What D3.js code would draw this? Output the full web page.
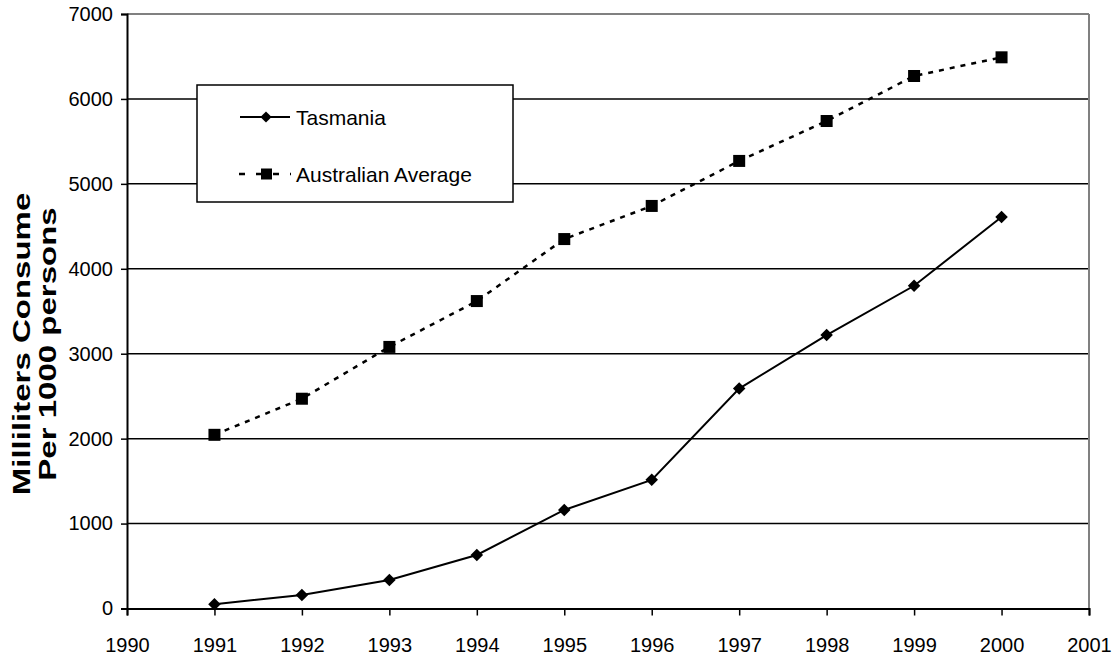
<!DOCTYPE html>
<html><head><meta charset="utf-8">
<script src="https://cdn.jsdelivr.net/npm/d3@7"></script>
<style>body{margin:0;background:#fff}svg text{font-family:"Liberation Sans",Arial,sans-serif}</style>
</head><body>
<svg id="c" width="1116" height="659"></svg>
<script>
const years = [1991,1992,1993,1994,1995,1996,1997,1998,1999,2000];
const tasmania = [50,160,335,630,1160,1515,2590,3220,3800,4610];
const australia = [2045,2470,3080,3620,4350,4740,5270,5740,6270,6490];
const yTicks = [0,1000,2000,3000,4000,5000,6000,7000];
const xTicks = [1990,1991,1992,1993,1994,1995,1996,1997,1998,1999,2000,2001];
const seriesNames = ["Tasmania","Australian Average"];

const svg = d3.select("#c");
const L=127,R=1089,T=14,B=608.5;
const x = d3.scaleLinear().domain([1990,2001]).range([L,R]);
const y = d3.scaleLinear().domain([0,7000]).range([B,T]);

// gridlines
svg.append("g").selectAll("line").data(yTicks.filter(d=>d>0)).join("line")
  .attr("x1",L).attr("x2",R).attr("y1",d=>y(d)).attr("y2",d=>y(d))
  .attr("stroke",d=>d===7000?"#808080":"#000").attr("stroke-width",d=>d===7000?2:1.5);
// right border
svg.append("line").attr("x1",R).attr("x2",R).attr("y1",T).attr("y2",B).attr("stroke","#808080").attr("stroke-width",2);

// axes
const yAxis = d3.axisLeft(y).tickValues(yTicks).tickSize(6).tickPadding(8).tickFormat(d3.format("d"));
const gy = svg.append("g").attr("transform",`translate(${L},0)`).call(yAxis);
const xAxis = d3.axisBottom(x).tickValues(xTicks).tickSize(7).tickPadding(22).tickFormat(d3.format("d"));
const gx = svg.append("g").attr("transform",`translate(0,${B})`).call(xAxis);
[gx,gy].forEach(g=>{
  g.attr("font-size",null).attr("font-family",null);
  g.select(".domain").attr("stroke","#000").attr("stroke-width",2);
  g.selectAll(".tick line").attr("stroke","#000").attr("stroke-width",1.5);
  g.selectAll("text").style("font-size","20px").attr("fill","#000");
});

// axis title
const tt = svg.append("text").attr("transform","translate(30,344) rotate(-90) scale(1,0.72)")
  .attr("text-anchor","middle").attr("font-weight","bold").style("font-size","33px").attr("fill","#000");
tt.append("tspan").attr("x",0).attr("y",0).text("Milliliters Consume");
tt.append("tspan").attr("x",0).attr("y",36).text("Per 1000 persons");

const line = d3.line().x((d,i)=>x(years[i])).y(d=>y(d));
// Australian
svg.append("path").datum(australia).attr("d",line).attr("fill","none").attr("stroke","#000")
  .attr("stroke-width",2.5).attr("stroke-dasharray","5,6");
svg.append("g").selectAll("rect").data(australia).join("rect")
  .attr("x",(d,i)=>x(years[i])-6).attr("y",d=>y(d)-6).attr("width",12).attr("height",12).attr("fill","#000");
// Tasmania
svg.append("path").datum(tasmania).attr("d",line).attr("fill","none").attr("stroke","#000").attr("stroke-width",2);
const diamond = d3.symbol().type(d3.symbolDiamond2).size(100);
svg.append("g").selectAll("path").data(tasmania).join("path")
  .attr("d",diamond).attr("transform",(d,i)=>`translate(${x(years[i])},${y(d)})`).attr("fill","#000");

// legend
const lg = svg.append("g");
lg.append("rect").attr("x",197).attr("y",85).attr("width",316).attr("height",117)
  .attr("fill","#fff").attr("stroke","#000").attr("stroke-width",1.5);
lg.append("line").attr("x1",240).attr("x2",290).attr("y1",117).attr("y2",117).attr("stroke","#000").attr("stroke-width",2);
lg.append("path").attr("d",d3.symbol().type(d3.symbolDiamond2).size(80)).attr("transform","translate(266,117)").attr("fill","#000");
lg.append("text").attr("x",296).attr("y",125).style("font-size","21px").attr("fill","#000").text(seriesNames[0]);
lg.append("line").attr("x1",239).attr("x2",291).attr("y1",174).attr("y2",174).attr("stroke","#000").attr("stroke-width",2.5).attr("stroke-dasharray","6,11");
lg.append("rect").attr("x",261).attr("y",168.5).attr("width",11).attr("height",11).attr("fill","#000");
lg.append("text").attr("x",296).attr("y",182).style("font-size","21px").attr("fill","#000").text(seriesNames[1]);
</script>
</body></html>
